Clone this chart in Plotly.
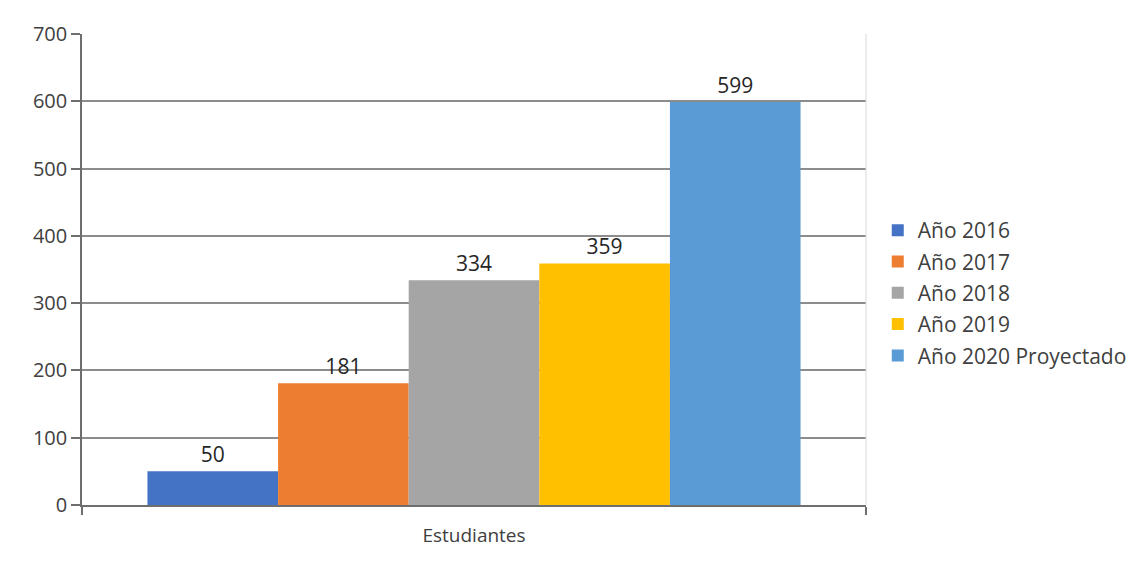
import plotly.graph_objects as go

category = ["Estudiantes"]
series_names = ["Año 2016", "Año 2017", "Año 2018", "Año 2019", "Año 2020 Proyectado"]
series_values = [50, 181, 334, 359, 599]
colors = ["#4472C4", "#ED7D31", "#A5A5A5", "#FFC000", "#5B9BD5"]
y_ticks = [0, 100, 200, 300, 400, 500, 600, 700]

FONT = "Open Sans, DejaVu Sans, sans-serif"

fig = go.Figure()
for i, (name, val, col) in enumerate(zip(series_names, series_values, colors)):
    fig.add_trace(go.Bar(
        x=category, y=[val], name=name, legendgroup=f"g{i}",
        marker=dict(color=col, line=dict(width=0)),
        text=[str(val)], textposition="outside",
        textfont=dict(size=21, color="#262626", family=FONT),
        cliponaxis=False,
    ))

fig.update_layout(
    width=1148, height=564,
    margin=dict(l=74, r=290, t=23, b=67),
    paper_bgcolor="white", plot_bgcolor="white",
    barmode="group", bargap=0.167, bargroupgap=0,
    font=dict(family=FONT, color="#404040"),
    legend=dict(x=1.015, y=0.45, yanchor="middle", xanchor="left",
                font=dict(size=21, color="#404040", family=FONT),
                tracegroupgap=1, itemwidth=30),
    showlegend=True,
)
fig.update_yaxes(
    range=[0, 700], tickvals=y_ticks, showgrid=True, gridcolor="#8c8c8c", gridwidth=1.5,
    showline=True, linecolor="#6e6e6e", linewidth=1.5,
    ticks="outside", ticklen=9, tickcolor="#6e6e6e", tickwidth=1.5,
    tickfont=dict(size=20, color="#404040"), zeroline=False,
)
fig.update_xaxes(
    showline=True, linecolor="#6e6e6e", linewidth=1.5, showgrid=False,
    ticks="outside", tickson="boundaries", ticklen=8, tickcolor="#6e6e6e", tickwidth=1.5,
    tickfont=dict(size=19, color="#404040"), ticklabelstandoff=12,
)
fig.add_shape(type="line", xref="paper", yref="paper", x0=1, x1=1, y0=0, y1=1,
              line=dict(color="#d9d9d9", width=1))

fig.write_html("out.html")
